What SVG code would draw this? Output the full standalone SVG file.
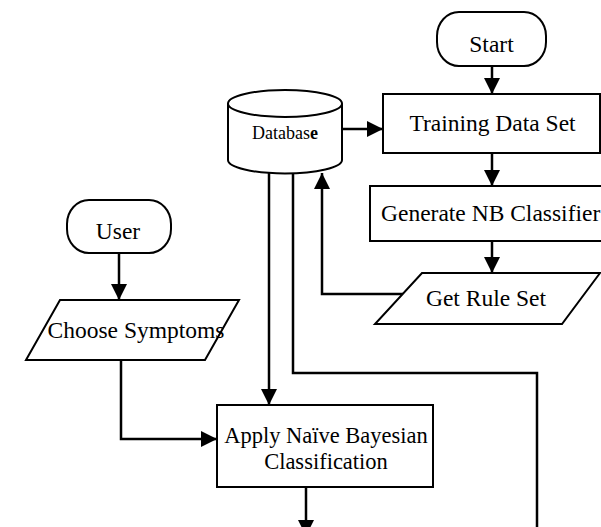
<svg xmlns="http://www.w3.org/2000/svg" width="601" height="527" viewBox="0 0 601 527">
  <style>
    .shape { fill: #ffffff; stroke: #000000; stroke-width: 2; }
    .wire { fill: none; stroke: #000000; stroke-width: 2.5; }
    .label { font-family: "Liberation Serif", "Times New Roman", serif; font-size: 23.5px; fill: #000000; text-anchor: middle; }
    .small { font-size: 18px; }
  </style>
  <defs>
    <marker id="arrow" markerUnits="userSpaceOnUse" markerWidth="16" markerHeight="16" viewBox="0 0 14 14" refX="14" refY="7" orient="auto">
      <path d="M0,0 L14,7 L0,14 Z" fill="#000000"/>
    </marker>
  </defs>

  <!-- connectors -->
  <g id="connectors">
    <path class="wire" d="M492,66 V94" marker-end="url(#arrow)"/>
    <path class="wire" d="M342,129 H383" marker-end="url(#arrow)"/>
    <path class="wire" d="M492,153 V186" marker-end="url(#arrow)"/>
    <path class="wire" d="M492,241 V273" marker-end="url(#arrow)"/>
    <path class="wire" d="M403,294 H322 V173" marker-end="url(#arrow)"/>
    <path class="wire" d="M119,253 V300" marker-end="url(#arrow)"/>
    <path class="wire" d="M121,360 V439 H217" marker-end="url(#arrow)"/>
    <path class="wire" d="M269,173 V405" marker-end="url(#arrow)"/>
    <path class="wire" d="M293,173 V373 H537 V527"/>
    <path class="wire" d="M306,487 V536" marker-end="url(#arrow)"/>
  </g>

  <g id="start">
    <rect class="shape" x="437" y="12" width="109" height="54" rx="22" ry="24"/>
    <text class="label" x="491.5" y="52">Start</text>
  </g>

  <g id="database">
    <path class="shape" d="M228,103.5 V160 A57,13.5 0 0 0 342,160 V103.5"/>
    <ellipse class="shape" cx="285" cy="103.5" rx="57" ry="13.5"/>
    <text class="label small" x="285" y="139">Databas<tspan font-weight="bold">e</tspan></text>
  </g>

  <g id="training">
    <rect class="shape" x="383" y="94" width="217" height="59"/>
    <text class="label" x="492.5" y="131">Training Data Set</text>
  </g>

  <g id="generate">
    <rect class="shape" x="370" y="186" width="240" height="55"/>
    <text class="label" x="381" y="221" style="text-anchor:start">Generate NB Classifier</text>
  </g>

  <g id="rules">
    <polygon class="shape" points="422,273 600,273 562,324 375,324"/>
    <text class="label" x="486" y="306">Get Rule Set</text>
  </g>

  <g id="user">
    <rect class="shape" x="67" y="200" width="104" height="53" rx="22" ry="24"/>
    <text class="label" x="118" y="239">User</text>
  </g>

  <g id="symptoms">
    <polygon class="shape" points="60,300 239,300 205,360 26,360"/>
    <text class="label" x="136" y="338">Choose Symptoms</text>
  </g>

  <g id="apply">
    <rect class="shape" x="217" y="405" width="216" height="82"/>
    <text class="label" x="326" y="443" style="font-size:22.5px">Apply Naïve Bayesian</text>
    <text class="label" x="326" y="469" style="font-size:22.5px">Classification</text>
  </g>
</svg>
